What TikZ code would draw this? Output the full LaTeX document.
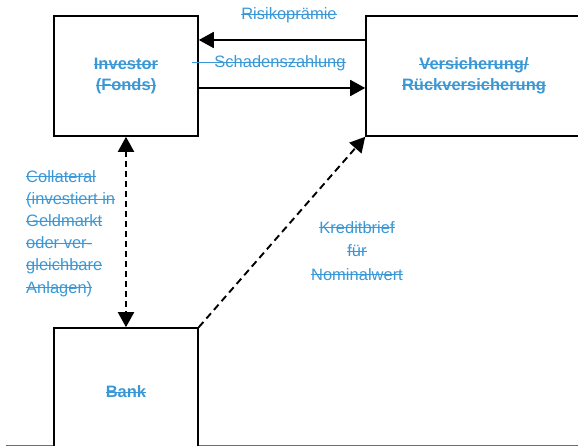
\documentclass[tikz,border=0pt]{standalone}
\usepackage{fontspec}
\setmainfont{Liberation Sans}
\usepackage{xcolor}
\usetikzlibrary{arrows.meta,positioning}

\definecolor{labelblue}{RGB}{58,152,214}
\definecolor{lineblue}{RGB}{40,130,195}

% struck-through text, optional extra length of the strike to the left
\newsavebox\strkbox
\newcommand{\strk}[2][0pt]{\sbox\strkbox{#2}\kern-#1\rlap{\rule[4.9pt]{\dimexpr\wd\strkbox+#1\relax}{0.9pt}}\kern#1\usebox\strkbox}

\begin{document}
\begin{tikzpicture}[x=1pt, y=-1pt, >={Triangle[length=15pt,width=16pt]},
        party/.style={draw, line width=1.6pt, fill=white, text=labelblue, align=center, inner sep=0pt,
                      font=\bfseries\fontsize{16.5}{21}\selectfont},
        lbl/.style={text=labelblue, inner sep=0pt, font=\fontsize{16.5}{22.2}\selectfont},
        flow/.style={line width=1.7pt, ->},
        pledge/.style={flow, line width=1.9pt, dash pattern=on 6pt off 4pt}]
        \useasboundingbox (0,0) rectangle (578,446);
        \draw[lineblue, line width=1pt] (6,445) -- (578,445);
        % parties
        \node[party, minimum width=144pt, minimum height=120pt] (inv) at (126,76) {\strk{Investor}\\\strk{(Fonds)}};
        \node[party, minimum width=216pt, minimum height=120pt] (vers) at (474,76) {\strk{Versicherung/}\\\strk{Rückversicherung}};
        \node[party, minimum width=144pt, minimum height=128pt] (bank) at (126,392) {\strk{Bank}};
        % flows
        \draw[flow] ([yshift=36pt]vers.west) -- ([yshift=36pt]inv.east);
        \draw[flow] ([yshift=-12pt]inv.east) -- ([yshift=-12pt]vers.west);
        \draw[pledge, <->] (inv.south) -- (bank.north);
        \draw[pledge, dash pattern=on 7pt off 4.5pt] (bank.north east) -- (vers.south west);
        % labels
        \node[lbl, anchor=base] (risk) at (289,20) {\strk{Risikoprämie}};
        \node[lbl, anchor=base] (claim) at (280,68) {\strk[22pt]{Schadenszahlung}};
        \node[lbl, anchor=north west, align=left] (coll) at (26,170) {\strk{Collateral}\\\strk{(investiert in}\\\strk{Geldmarkt}\\\strk{oder ver-}\\\strk{gleichbare}\\\strk{Anlagen)}};
        \node[lbl, anchor=north, align=center, font=\fontsize{16.5}{23.5}\selectfont] (loc) at (357,221) {\strk{Kreditbrief}\\\strk{für}\\\strk{Nominalwert}};
\end{tikzpicture}
\end{document}
